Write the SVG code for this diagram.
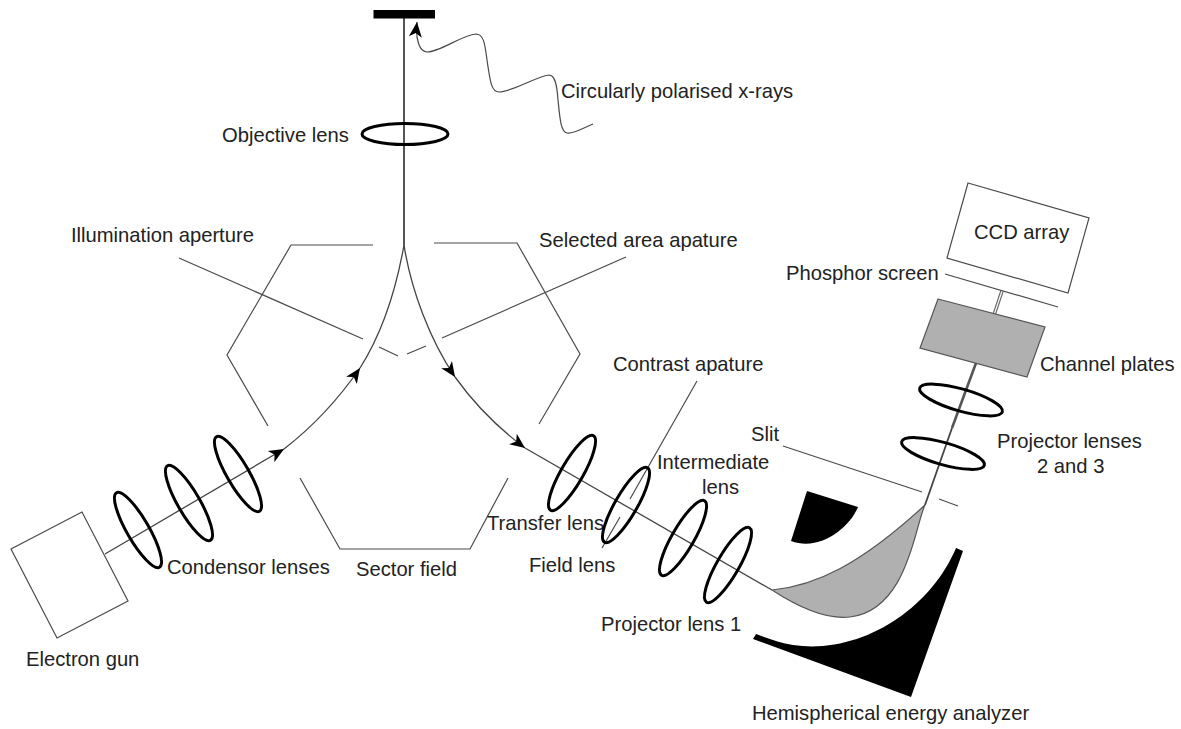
<svg xmlns="http://www.w3.org/2000/svg" width="1181" height="729" viewBox="0 0 1181 729">
<style>
text{font-family:"Liberation Sans",Arial,sans-serif;font-size:20.2px;fill:#222}
.thin{fill:none;stroke:#4a4a4a;stroke-width:1.2}
.box{fill:#fff;stroke:#4a4a4a;stroke-width:1.2}
.beam{fill:none;stroke:#444;stroke-width:1.3}
.lens{fill:none;stroke:#000;stroke-width:3}
.black{fill:#000}
.grey{fill:#b0b0b0;stroke:#555;stroke-width:1.2}
</style>
<defs>
<marker id="arrow" markerUnits="userSpaceOnUse" markerWidth="18" markerHeight="14" refX="16" refY="7" orient="auto" viewBox="0 0 18 14">
<path d="M16 7 L1 0.5 L5 7 L1 13.5 Z" fill="#000"/>
</marker>
</defs>
<g id="connectors">
<path class="beam" marker-end="url(#arrow)" d="M105 554 L284 449"/>
<path class="beam" marker-end="url(#arrow)" d="M284 449 C315 425 340 397 360 368"/>
<path class="beam" d="M360 368 C381 335 396 290 404 245"/>
<path class="beam" style="stroke-width:2;stroke:#555" d="M404 18 V245"/>
<path class="beam" marker-end="url(#arrow)" d="M404 245 C411 290 430 340 455 377"/>
<path class="beam" marker-end="url(#arrow)" d="M455 377 C473 402 498 428 525 448"/>
<path class="beam" d="M525 448 L772 590"/>
<path class="beam" style="stroke-width:1.8" d="M925 505 L952 428"/>
<path class="beam" style="stroke-width:2.6;stroke:#555" d="M952 428 L976 363"/>
<path class="thin" style="stroke-width:3.6;stroke:#666" d="M1002 291 L994 315"/>
<path class="thin" style="stroke-width:1.2;stroke:#fff" d="M1002 291 L994 315"/>
</g>
<g id="sample"><rect class="black" x="373.500" y="10" width="61.500" height="8.500"/></g>
<g id="xrays">
<path class="thin" marker-end="url(#arrow)" d="M593 124 C583 128 574 134 567 133 C561 132 560 120 558 100 C557 85 555 75 549 75 C535 77 512 92 499 92 C491 92 490 80 487 60 C485 45 484 34 476 34 C462 35 440 52 427 52 C420 52 415 40 417 22"/>
<text x="561" y="98">Circularly polarised x-rays</text>
</g>
<g id="objective-lens">
<ellipse class="lens" cx="405" cy="134" rx="43" ry="10.500"/>
<text x="222" y="142">Objective lens</text>
</g>
<g id="illumination-aperture">
<path class="thin" d="M179 258 L363 339 M379 347 L398 356"/>
<text x="71" y="242">Illumination aperture</text>
</g>
<g id="selected-area-aperture">
<path class="thin" d="M407 354 L426 346 M442 338 L626 257"/>
<text x="539" y="247">Selected area apature</text>
</g>
<g id="sector-field">
<path class="thin" d="M373 245 H291 L227 355 L268 426"/>
<path class="thin" d="M434 243 H517 L580 354 L539 424"/>
<path class="thin" d="M300 478 L340 549 H470 L508 478"/>
<text x="356" y="576">Sector field</text>
</g>
<g id="electron-gun">
<path class="box" d="M82 512 L11 549 L57 638 L128 601 Z"/>
<text x="26" y="666">Electron gun</text>
</g>
<g id="condensor-lenses">
<ellipse class="lens" transform="rotate(60 138 530)" cx="138" cy="530" rx="43" ry="11"/>
<ellipse class="lens" transform="rotate(60 189 503)" cx="189" cy="503" rx="43" ry="11"/>
<ellipse class="lens" transform="rotate(60 238 474)" cx="238" cy="474" rx="43" ry="11"/>
<text x="167" y="574">Condensor lenses</text>
</g>
<g id="transfer-lens">
<ellipse class="lens" transform="rotate(-60 572 473)" cx="572" cy="473" rx="43" ry="11"/>
<text x="487" y="530">Transfer lens</text>
</g>
<g id="contrast-aperture">
<path class="thin" d="M697 381 L630 499 M620 517 L602 548"/>
<text x="613" y="371">Contrast apature</text>
</g>
<g id="field-lens">
<ellipse class="lens" transform="rotate(-60 626 505)" cx="626" cy="505" rx="43" ry="11"/>
<text x="529" y="572">Field lens</text>
</g>
<g id="intermediate-lens">
<ellipse class="lens" transform="rotate(-60 683 538)" cx="683" cy="538" rx="43" ry="11"/>
<text x="657" y="469">Intermediate</text>
<text x="702" y="494">lens</text>
</g>
<g id="projector-lens-1">
<ellipse class="lens" transform="rotate(-60 728 565)" cx="728" cy="565" rx="43" ry="11"/>
<text x="601" y="631">Projector lens 1</text>
</g>
<g id="slit">
<path class="thin" d="M783 446 L922 492 M939 499 L958 506"/>
<text x="751" y="441">Slit</text>
</g>
<g id="analyzer">
<path class="black" d="M807 491 L858 507 C850 527 820 552 791 541 Z"/>
<path class="grey" d="M772 590 C815 586 860 565 925 505 C915 525 908 610 850 617 C825 620 795 605 772 590 Z"/>
<path class="black" d="M756 634 C770 639 780 643 793 645 C860 655 930 610 956 548 L963 551 L911 697 L753 639 Z"/>
<text x="752" y="720">Hemispherical energy analyzer</text>
</g>
<g id="projector-lenses-2-3">
<ellipse class="lens" transform="rotate(16 961 400)" cx="961" cy="400" rx="43" ry="11"/>
<ellipse class="lens" transform="rotate(16 943 453.500)" cx="943" cy="453.500" rx="43" ry="11"/>
<text x="997" y="448">Projector lenses</text>
<text x="1037" y="473">2 and 3</text>
</g>
<g id="channel-plates">
<path class="grey" d="M938 299 L1045 327 L1027 377 L920 348 Z"/>
<text x="1040" y="371">Channel plates</text>
</g>
<g id="phosphor-screen">
<path class="thin" d="M945 274 L1058 307"/>
<text x="786" y="280">Phosphor screen</text>
</g>
<g id="ccd-array">
<path class="box" d="M968 183 L1089 218 L1068 293 L947 258 Z"/>
<text x="974" y="239">CCD array</text>
</g>
</svg>
